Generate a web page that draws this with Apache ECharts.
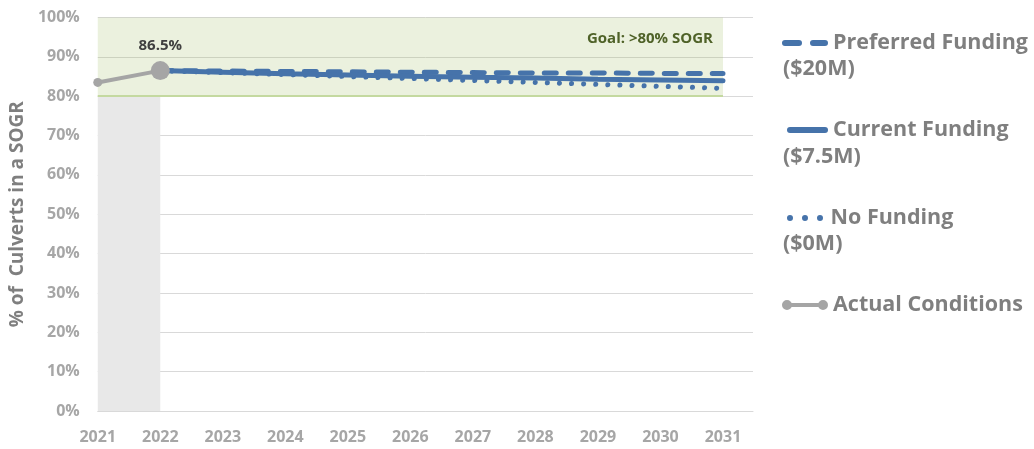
<!DOCTYPE html>
<html>
<head>
<meta charset="utf-8">
<script src="https://cdn.jsdelivr.net/npm/echarts@6/dist/echarts.min.js"></script>
<style>
  html, body { margin: 0; padding: 0; background: #ffffff; }
  #chart { width: 1034px; height: 449px; }
</style>
</head>
<body>
<div id="chart"></div>
<script>
// Years shown on the horizontal axis
const years = [2021, 2022, 2023, 2024, 2025, 2026, 2027, 2028, 2029, 2030, 2031];
// Projection years (scenarios start from the last observed value)
const projYears = [2022, 2023, 2024, 2025, 2026, 2027, 2028, 2029, 2030, 2031];
// % of culverts in a state of good repair, by funding scenario
const preferredFunding = [86.5, 86.4, 86.3, 86.2, 86.1, 86.0, 85.9, 85.9, 85.8, 85.8];
const currentFunding   = [86.5, 86.1, 85.7, 85.4, 85.1, 84.8, 84.6, 84.3, 84.1, 83.9];
const noFunding        = [86.5, 86.0, 85.5, 85.0, 84.5, 84.0, 83.5, 83.0, 82.5, 82.0];
// Observed condition
const actualYears = [2021, 2022];
const actualConditions = [83.5, 86.5];
// Goal band and labels
const goalMin = 80;
const goalMax = 100;
const goalLabel = 'Goal: >80% SOGR';
const seriesNames = ['Preferred Funding', 'Current Funding', 'No Funding', 'Actual Conditions'];
const seriesSubtitles = ['($20M)', '($7.5M)', '($0M)'];

const BLUE = '#4673aa';
const GRAY_LINE = '#a5a5a5';
const FONT = '"Open Sans", "Noto Sans", sans-serif';

const pairs = (xs, ys) => xs.map((x, i) => [x, ys[i]]);

// Legend icons built as simple paths
const capsule = (x1, x2, h) => {
  const r = h / 2;
  return `M${x1 + r},0 H${x2 - r} A${r},${r} 0 0 1 ${x2 - r},${h} H${x1 + r} A${r},${r} 0 0 1 ${x1 + r},0 Z`;
};
const circle = (cx, cy, r) => `M${cx - r},${cy} A${r},${r} 0 1,1 ${cx + r},${cy} A${r},${r} 0 1,1 ${cx - r},${cy} Z`;
const iconDashed = 'path://' + capsule(0, 20, 6) + ' ' + capsule(28, 46, 6);
const iconSolid = 'path://' + capsule(0, 41, 6);
const iconDotted = 'path://' + circle(3, 3, 3) + ' ' + circle(18, 3, 3) + ' ' + circle(33, 3, 3);
const iconActual = 'path://' + circle(5, 5, 5) + ' M9,3 H37 V7 H9 Z ' + circle(41, 5, 5);

const legendText = {
  fontSize: 21.5, fontWeight: 'bold', color: '#7f7f7f', fontFamily: FONT, lineHeight: 26
};
const subtitleStyle = t => ({ text: t, fill: '#7f7f7f', fontSize: 21.5, fontWeight: 'bold', fontFamily: FONT });
const mkLegend = (name, icon, left, top, w, h, color) => ({
  show: true,
  orient: 'vertical',
  left: left, top: top,
  itemWidth: w, itemHeight: h,
  itemGap: 0,
  padding: 0,
  selectedMode: false,
  textStyle: legendText,
  data: [{ name: name, icon: icon, itemStyle: { color: color } }]
});

const chart = echarts.init(document.getElementById('chart'), null, { renderer: 'canvas' });

const option = {
  animation: false,
  backgroundColor: '#ffffff',
  grid: { left: 96, right: 281, top: 17.5, bottom: 38, containLabel: false },
  xAxis: {
    type: 'value',
    min: 2021, max: 2031.48, interval: 1,
    axisLine: { show: true, lineStyle: { color: '#d9d9d9', width: 1 } },
    axisTick: { show: false },
    splitLine: { show: false },
    axisLabel: {
      color: '#a6a6a6', fontSize: 16, fontWeight: 'bold', fontFamily: FONT, margin: 18,
      formatter: v => (years.indexOf(v) >= 0 ? String(v) : '')
    }
  },
  yAxis: {
    type: 'value',
    min: 0, max: 100, interval: 10,
    name: '% of  Culverts in a SOGR',
    nameLocation: 'middle',
    nameRotate: 90,
    nameGap: 70,
    nameTextStyle: { color: '#7f7f7f', fontSize: 19, fontWeight: 'bold', fontFamily: FONT },
    axisLine: { show: false },
    axisTick: { show: false },
    splitLine: { show: true, lineStyle: { color: '#d9d9d9', width: 1 } },
    axisLabel: {
      color: '#a6a6a6', fontSize: 16, fontWeight: 'bold', fontFamily: FONT, margin: 18,
      formatter: '{value}%'
    }
  },
  legend: [
    mkLegend(seriesNames[0], iconDashed, 782, 30, 46, 6, BLUE),
    mkLegend(seriesNames[1], iconSolid, 787, 117, 41, 6, BLUE),
    mkLegend(seriesNames[2], iconDotted, 787, 205, 41, 6, BLUE),
    mkLegend(seriesNames[3], iconActual, 782, 292, 46, 10, GRAY_LINE)
  ],
  graphic: [
    { type: 'text', left: 783, top: 58, style: subtitleStyle(seriesSubtitles[0]) },
    { type: 'text', left: 783, top: 146, style: subtitleStyle(seriesSubtitles[1]) },
    { type: 'text', left: 783, top: 233, style: subtitleStyle(seriesSubtitles[2]) }
  ],
  series: [
    {
      name: seriesNames[0],
      type: 'line',
      data: pairs(projYears, preferredFunding),
      showSymbol: false,
      symbol: 'none',
      z: 3,
      lineStyle: { color: BLUE, width: 5, type: [12, 12], cap: 'round' },
      itemStyle: { color: BLUE },
      markArea: {
        silent: true,
        data: [
          [
            { xAxis: years[0], yAxis: goalMin, itemStyle: { color: 'rgba(155,187,89,0.2)' },
              label: { show: true, position: 'insideTopRight', distance: 0, padding: [14, 10, 0, 0],
                       formatter: goalLabel, color: '#4f6228', fontSize: 15, fontWeight: 'bold', fontFamily: FONT } },
            { xAxis: years[years.length - 1], yAxis: goalMax }
          ],
          [
            { xAxis: actualYears[0], yAxis: 0, itemStyle: { color: '#e8e8e8' }, label: { show: false } },
            { xAxis: actualYears[1], yAxis: goalMin }
          ]
        ]
      },
      markLine: {
        silent: true,
        symbol: 'none',
        label: { show: false },
        lineStyle: { color: '#c4d9a0', width: 2, type: 'solid' },
        data: [[{ xAxis: years[0], yAxis: goalMin }, { xAxis: years[years.length - 1], yAxis: goalMin }]]
      }
    },
    {
      name: seriesNames[1],
      type: 'line',
      data: pairs(projYears, currentFunding),
      showSymbol: false,
      symbol: 'none',
      z: 4,
      lineStyle: { color: BLUE, width: 5, cap: 'round' },
      itemStyle: { color: BLUE }
    },
    {
      name: seriesNames[2],
      type: 'line',
      data: pairs(projYears, noFunding),
      showSymbol: false,
      symbol: 'none',
      z: 3,
      lineStyle: { color: BLUE, width: 5, type: [0.1, 12], cap: 'round' },
      itemStyle: { color: BLUE }
    },
    {
      name: seriesNames[3],
      type: 'line',
      z: 6,
      data: actualYears.map((y, i) => ({
        value: [y, actualConditions[i]],
        symbolSize: i === actualYears.length - 1 ? 19 : 9,
        label: {
          show: i === actualYears.length - 1,
          position: 'top', distance: 8,
          formatter: p => p.value[1].toFixed(1) + '%',
          color: '#404040', fontSize: 15, fontWeight: 'bold', fontFamily: FONT
        }
      })),
      symbol: 'circle',
      showSymbol: true,
      lineStyle: { color: GRAY_LINE, width: 4 },
      itemStyle: { color: GRAY_LINE }
    }
  ]
};

chart.setOption(option);
</script>
</body>
</html>
